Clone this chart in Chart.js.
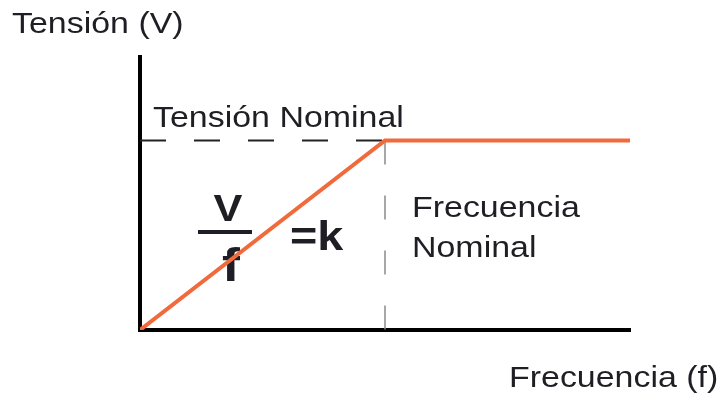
<!DOCTYPE html>
<html>
<head>
<meta charset="utf-8">
<script src="https://cdn.jsdelivr.net/npm/chart.js@4/dist/chart.umd.min.js"></script>
<style>
    html, body { margin: 0; padding: 0; background: #fff; }
    #wrap { width: 723px; height: 396px; }
</style>
</head>
<body>
<div id="wrap"><canvas id="vfChart"></canvas></div>
<script>
// --- Data (per-unit: nominal frequency = 1, nominal voltage = 1) ---
const frequency = [0, 1, 2];
const voltage = [0, 1, 1];
const nominalFreq = 1;
const nominalVolt = 1;
const yMax = 1.44;

const yTitle = 'Tensión (V)';
const xTitle = 'Frecuencia (f)';
const voltLabel = 'Tensión Nominal';
const freqLabel = ['Frecuencia', 'Nominal'];

const ORANGE = '#f06a3c';
const TEXT = '#1e1e24';
const SX = 1.17; // the picture is a bit wide

function drawText(ctx, str, x, y, font) {
    ctx.save();
    ctx.font = font;
    ctx.translate(x, y);
    ctx.scale(SX, 1);
    ctx.fillText(str, 0, 0);
    ctx.restore();
}

// --- Labels drawn under the lines ---
const labelsPlugin = {
    id: 'labels',
    beforeDatasetsDraw(chart) {
        const ctx = chart.ctx;
        const x = chart.scales.x, y = chart.scales.y;
        ctx.save();
        ctx.fillStyle = TEXT;
        ctx.textBaseline = 'alphabetic';
        ctx.textAlign = 'left';
        const f = '29px "Liberation Sans", Arial, sans-serif';
        drawText(ctx, yTitle, 12, 33, f);
        drawText(ctx, xTitle, 509, 387, f);
        drawText(ctx, voltLabel, x.getPixelForValue(0) + 13, y.getPixelForValue(nominalVolt) - 13, f);
        drawText(ctx, freqLabel[0], x.getPixelForValue(nominalFreq) + 27, 217, f);
        drawText(ctx, freqLabel[1], x.getPixelForValue(nominalFreq) + 27, 257, f);

        // V / f = k
        ctx.textAlign = 'center';
        drawText(ctx, 'V', 228, 221, 'bold 37px "Liberation Sans", Arial, sans-serif');
        drawText(ctx, 'f', 231, 281, 'bold 46px "Liberation Sans", Arial, sans-serif');
        ctx.fillRect(198, 230, 54, 4);
        ctx.textAlign = 'left';
        drawText(ctx, '=k', 290, 250, 'bold 40px "Liberation Sans", Arial, sans-serif');
        ctx.restore();
    }
};

new Chart(document.getElementById('vfChart'), {
    type: 'line',
    data: {
        datasets: [
            {
                label: 'nominal voltage',
                data: [{ x: frequency[0], y: nominalVolt }, { x: nominalFreq, y: nominalVolt }],
                borderColor: '#222',
                borderWidth: 2,
                borderDash: [26, 28],
                pointRadius: 0,
                order: 3
            },
            {
                label: 'nominal frequency',
                data: [{ x: nominalFreq, y: nominalVolt }, { x: nominalFreq, y: 0 }],
                borderColor: '#8a8a8a',
                borderWidth: 1.5,
                borderDash: [24, 31],
                pointRadius: 0,
                order: 2
            },
            {
                label: 'V/f',
                data: frequency.map((v, i) => ({ x: v, y: voltage[i] })),
                borderColor: ORANGE,
                borderWidth: 4,
                pointRadius: 0,
                tension: 0,
                order: 1
            }
        ]
    },
    options: {
        responsive: true,
        maintainAspectRatio: false,
        animation: false,
        layout: { padding: { left: 140, right: 93, top: 57, bottom: 66 } },
        plugins: { legend: { display: false }, tooltip: { enabled: false } },
        scales: {
            x: {
                type: 'linear', min: 0, max: 2,
                ticks: { display: false },
                grid: { display: false, drawTicks: false },
                border: { display: true, color: '#000', width: 4 }
            },
            y: {
                type: 'linear', min: 0, max: yMax,
                ticks: { display: false },
                grid: { display: false, drawTicks: false },
                border: { display: true, color: '#000', width: 4 }
            }
        }
    },
    plugins: [labelsPlugin]
});
</script>
</body>
</html>
